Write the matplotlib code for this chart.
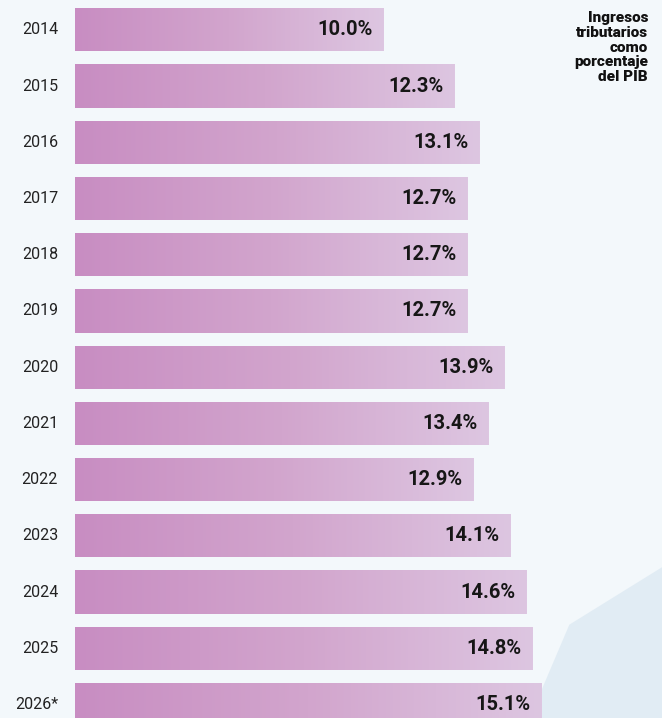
import numpy as np
import matplotlib
matplotlib.use("Agg")
import matplotlib.pyplot as plt
from matplotlib.colors import LinearSegmentedColormap
from matplotlib.patches import Polygon

years = ["2014", "2015", "2016", "2017", "2018", "2019", "2020",
         "2021", "2022", "2023", "2024", "2025", "2026*"]
values = [10.0, 12.3, 13.1, 12.7, 12.7, 12.7, 13.9,
          13.4, 12.9, 14.1, 14.6, 14.8, 15.1]
title = "Ingresos\ntributarios\ncomo\nporcentaje\ndel PIB"

plt.rcParams['font.family'] = ['Roboto', 'DejaVu Sans']

bg = "#f3f8fb"
cmap = LinearSegmentedColormap.from_list("barra", ["#c88dc2", "#d2a5cd", "#ddc6e1"])
grad = np.linspace(0, 1, 256).reshape(1, -1)

fig = plt.figure(figsize=(6.62, 7.18), dpi=100, facecolor=bg)
ax = fig.add_axes([0, 0, 1, 1])
ax.set_facecolor(bg)
ax.axis('off')

# fondo: mancha azul clara abajo a la derecha
ax.add_patch(Polygon([(0.80, 0.0), (0.86, 0.13), (0.93, 0.17), (1.0, 0.21), (1.0, 0.0)],
                     closed=True, transform=ax.transAxes, facecolor="#d6e5f0",
                     edgecolor='none', alpha=0.6, zorder=0))

h = 0.77
for i, (yr, v) in enumerate(zip(years, values)):
    bars = ax.barh(i, v, height=h, left=0, color='none', edgecolor='none', zorder=1)
    im = ax.imshow(grad, cmap=cmap, aspect='auto', extent=(0, v, i + h / 2, i - h / 2),
                   zorder=2)
    im.set_clip_path(bars.patches[0])
    ax.annotate(yr, (0, i), xytext=(-17, 0), textcoords='offset pixels',
                ha='right', va='center', fontsize=11.5, color="#222222")
    ax.annotate(f"{v:.1f}%", (v, i), xytext=(-11, 0), textcoords='offset pixels',
                ha='right', va='center', fontsize=14.5, fontweight='bold',
                color="#161616", zorder=3)

ax.set_xlim(-2.43, 19.0)
ax.set_ylim(12.24, -0.53)

fig.text(0.979, 0.985, title, ha='right', va='top', fontsize=11,
         fontweight='black', color="#111111", linespacing=1.08)

fig.savefig("out.png", dpi=100, facecolor=bg)
